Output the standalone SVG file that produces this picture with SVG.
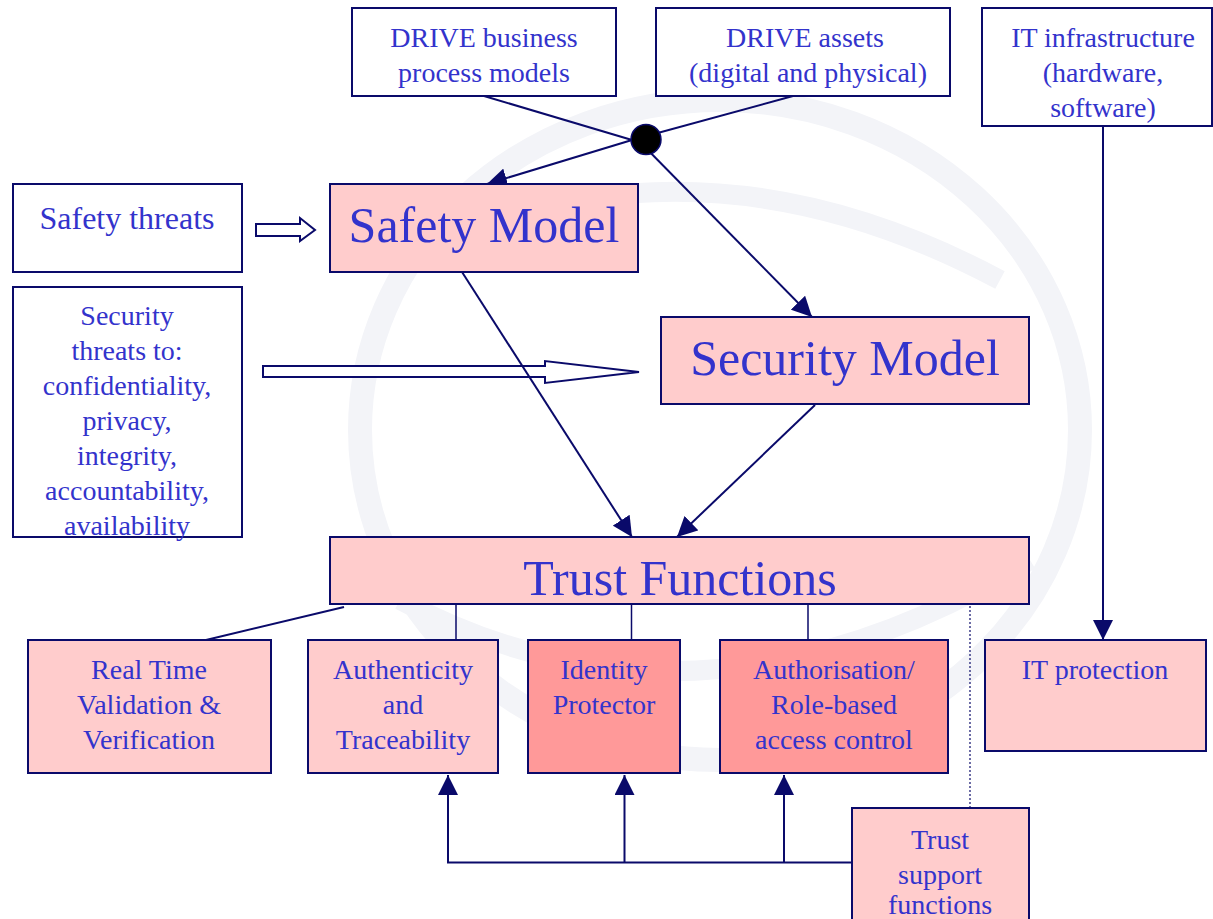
<svg xmlns="http://www.w3.org/2000/svg" width="1213" height="919" viewBox="0 0 1213 919">
<defs>
<style>
.box{stroke:#0a0a6a;stroke-width:2}
.w{fill:#ffffff}
.p{fill:#ffcccc}
.r{fill:#ff9999}
text{font-family:"Liberation Serif","Times New Roman",serif;fill:#3333cc;text-anchor:middle}
.s{font-size:28px}
.m{font-size:32px}
.b{font-size:50px}
.ln{stroke:#0a0a6a;stroke-width:2;fill:none}
.thin{stroke:#0a0a6a;stroke-width:1.5;fill:none}
.hollow{fill:#ffffff;stroke:#0a0a6a;stroke-width:2}
</style>
<marker id="ah" viewBox="0 0 20 20" refX="20" refY="10" markerWidth="20" markerHeight="20" markerUnits="userSpaceOnUse" orient="auto">
<path d="M0,0 L20,10 L0,20 Z" fill="#0a0a6a"/>
</marker>
</defs>
<rect width="1213" height="919" fill="#ffffff"/>
<g id="watermark" fill="none" stroke="#f3f4f8">
<ellipse cx="720" cy="430" rx="360" ry="330" stroke-width="24"/>
<path d="M420,250 Q700,120 1000,280" stroke-width="20"/>
<path d="M400,600 Q700,760 1030,560" stroke-width="20"/>
</g>
<g id="connectors">
<polygon class="hollow" points="256,224 300,224 300,218 315,230 300,241 300,236 256,236"/>
<polygon class="hollow" points="263,366 545,366 545,361 639,372 545,383 545,377 263,377"/>
<line class="ln" x1="484" y1="96" x2="632" y2="140"/>
<line class="ln" x1="793" y1="96" x2="632" y2="140"/>
<line class="ln" x1="632" y1="140" x2="487" y2="184" marker-end="url(#ah)"/>
<line class="ln" x1="638" y1="140" x2="812" y2="317" marker-end="url(#ah)"/>
<line class="ln" x1="462" y1="272" x2="632" y2="537" marker-end="url(#ah)"/>
<line class="ln" x1="815" y1="405" x2="677" y2="537" marker-end="url(#ah)"/>
<line class="ln" x1="1103" y1="126" x2="1103" y2="640" marker-end="url(#ah)"/>
<line class="ln" x1="344" y1="607" x2="206" y2="640"/>
<line class="thin" x1="456" y1="604" x2="456" y2="640"/>
<line class="thin" x1="631.5" y1="604" x2="631.5" y2="640"/>
<line class="thin" x1="808" y1="604" x2="808" y2="640"/>
<line x1="970" y1="606" x2="970" y2="808" stroke="#0a0a6a" stroke-width="1.2" stroke-dasharray="2,2"/>
<polyline class="ln" points="852,862.5 448,862.5 448,775" marker-end="url(#ah)"/>
<line class="ln" x1="624.5" y1="862.5" x2="624.5" y2="775" marker-end="url(#ah)"/>
<line class="ln" x1="784" y1="862.5" x2="784" y2="775" marker-end="url(#ah)"/>
<circle cx="646" cy="139.5" r="15" fill="#000000" stroke="#0a0a6a" stroke-width="1.5"/>
</g>
<g id="drive-business">
<rect class="box w" x="352" y="8" width="264" height="88"/>
<text class="s" x="484" y="47">DRIVE business</text>
<text class="s" x="484" y="82">process models</text>
</g>
<g id="drive-assets">
<rect class="box w" x="656" y="8" width="294" height="88"/>
<text class="s" x="805" y="47">DRIVE assets</text>
<text class="s" x="808" y="82">(digital and physical)</text>
</g>
<g id="it-infrastructure">
<rect class="box w" x="982" y="8" width="230" height="118"/>
<text class="s" x="1103" y="47">IT infrastructure</text>
<text class="s" x="1103" y="82">(hardware,</text>
<text class="s" x="1103" y="117">software)</text>
</g>
<g id="safety-threats">
<rect class="box w" x="13" y="184" width="229" height="88"/>
<text class="m" x="127" y="229">Safety threats</text>
</g>
<g id="safety-model">
<rect class="box p" x="330" y="184" width="308" height="88"/>
<text class="b" x="484" y="242">Safety Model</text>
</g>
<g id="security-threats">
<rect class="box w" x="13" y="287" width="229" height="250"/>
<text class="s" x="127" y="325">Security</text>
<text class="s" x="127" y="360">threats to:</text>
<text class="s" x="127" y="395">confidentiality,</text>
<text class="s" x="127" y="430">privacy,</text>
<text class="s" x="127" y="465">integrity,</text>
<text class="s" x="127" y="500">accountability,</text>
<text class="s" x="127" y="535">availability</text>
</g>
<g id="security-model">
<rect class="box p" x="661" y="317" width="368" height="87"/>
<text class="b" x="845" y="375">Security Model</text>
</g>
<g id="trust-functions">
<rect class="box p" x="330" y="537" width="699" height="67"/>
<text class="b" x="680" y="595">Trust Functions</text>
</g>
<g id="real-time">
<rect class="box p" x="28" y="640" width="243" height="133"/>
<text class="s" x="149" y="679">Real Time</text>
<text class="s" x="149" y="714">Validation &amp;</text>
<text class="s" x="149" y="749">Verification</text>
</g>
<g id="authenticity">
<rect class="box p" x="308" y="640" width="190" height="133"/>
<text class="s" x="403" y="679">Authenticity</text>
<text class="s" x="403" y="714">and</text>
<text class="s" x="403" y="749">Traceability</text>
</g>
<g id="identity-protector">
<rect class="box r" x="528" y="640" width="152" height="133"/>
<text class="s" x="604" y="679">Identity</text>
<text class="s" x="604" y="714">Protector</text>
</g>
<g id="authorisation">
<rect class="box r" x="720" y="640" width="228" height="133"/>
<text class="s" x="834" y="679">Authorisation/</text>
<text class="s" x="834" y="714">Role-based</text>
<text class="s" x="834" y="749">access control</text>
</g>
<g id="it-protection">
<rect class="box p" x="985" y="640" width="221" height="111"/>
<text class="s" x="1095" y="679">IT protection</text>
</g>
<g id="trust-support">
<rect class="box p" x="852" y="808" width="177" height="120"/>
<text class="s" x="940" y="849">Trust</text>
<text class="s" x="940" y="884">support</text>
<text class="s" x="940" y="914">functions</text>
</g>
</svg>
